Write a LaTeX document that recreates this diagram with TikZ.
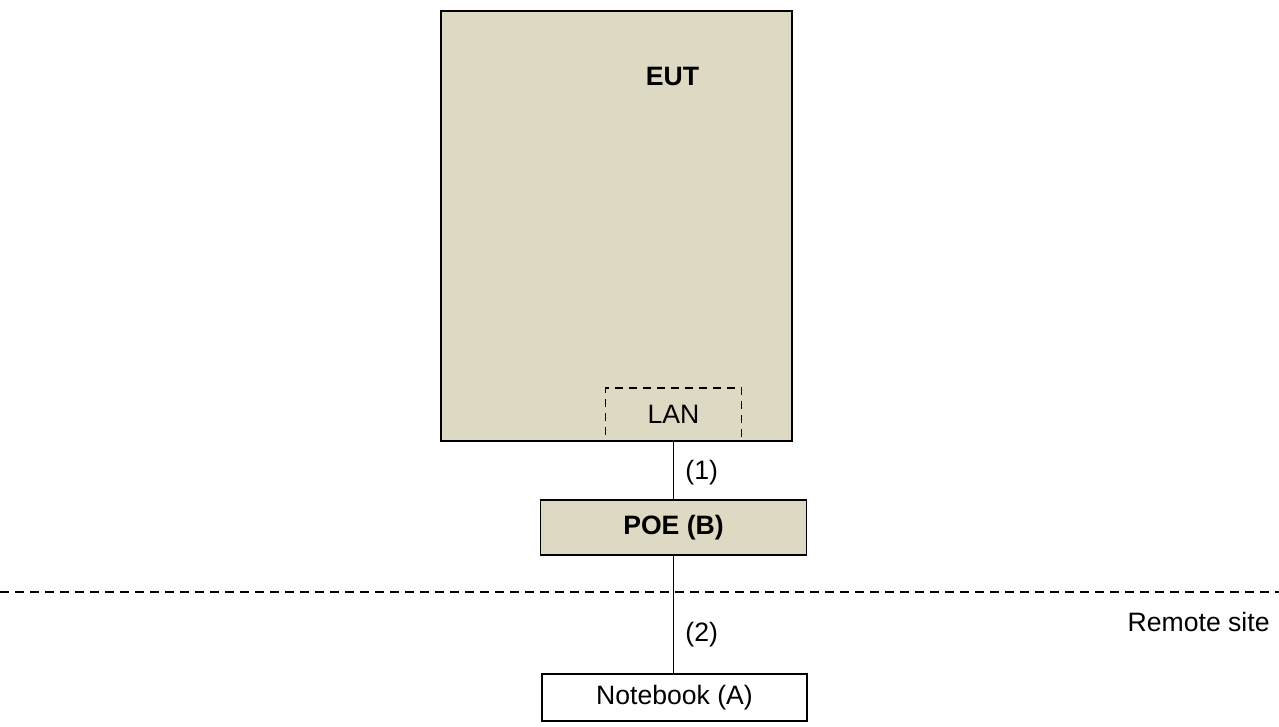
\documentclass[tikz,border=0pt]{standalone}
\usepackage{fontspec}
\setmainfont{Liberation Sans}
\usepackage{tikz}
\usetikzlibrary{positioning}
\definecolor{euttan}{RGB}{221,217,195}
\tikzset{
    box/.style={draw=black, line width=0.9pt, inner sep=0pt},
    tanbox/.style={box, fill=euttan},
    lanbox/.style={draw=black, line width=0.9pt, dash pattern=on 4pt off 3pt},
    cable/.style={draw=black, line width=0.8pt},
    sitesep/.style={draw=black, line width=0.7pt, dash pattern=on 4.5pt off 3pt},
    lbl/.style={inner sep=0pt},
}
\begin{document}
\begin{tikzpicture}[x=0.5pt,y=-0.5pt,font=\fontsize{13.3}{15}\selectfont]
\useasboundingbox (0,0) rectangle (1279,727);

% boxes
\node [tanbox, minimum width=175.5pt, minimum height=215pt] at (616.5,226) (eut) {};
\node [lbl] at (672.5,76) (euttext) {\bfseries EUT};
\node [lanbox, minimum width=68pt, minimum height=26.5pt] at (673.5,414.5) (lan) {};
\node [lbl] at (673.5,414) {LAN};
\node [tanbox, minimum width=133pt, minimum height=27.5pt] at (673.5,527.5) (poe) {\bfseries POE (B)};
\node [box, fill=white, minimum width=132.5pt, minimum height=23.5pt] at (674.5,697.5) (nb) {Notebook (A)};

% remote site separator
\coordinate (sepl) at (0,592);
\coordinate (sepr) at (1279,592);
\draw [sitesep] (sepl) -- (sepr);
\node [lbl, anchor=east] at (1270,622) (remote) {Remote site};

% cables
\draw [cable] (lan.south) -- (poe.north);
\draw [cable] (poe.south) -- (poe.south |- nb.north);
\node [lbl, anchor=west] at (685,473) (c1) {(1)};
\node [lbl, anchor=west] at (685,635) (c2) {(2)};

\end{tikzpicture}
\end{document}
